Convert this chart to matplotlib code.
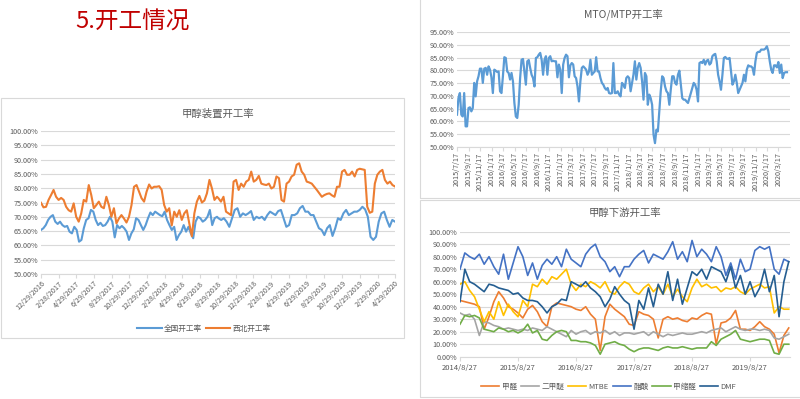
import numpy as np
import pandas as pd
import matplotlib
matplotlib.use('Agg')
import matplotlib.pyplot as plt
from matplotlib.patches import Rectangle

plt.rcParams['font.family'] = ['Noto Sans CJK SC', 'DejaVu Sans']

### 甲醇装置开工率 : deux moitiés (avant / après fin août 2018)
national_a = [65.4, 66, 67.1, 68.9, 70, 70.6, 68.3, 67.5, 68.3, 67.1, 66.5, 66.8, 64.8, 64.2, 66.5,
              65.4, 61.3, 61.9, 66, 68.9, 69.5, 72.4, 71.8, 68.9, 67.1, 67.9, 66.8, 67.1, 68.3, 70,
              68.3, 62.8, 67.1, 66, 66.8, 66, 64.8, 61.9, 64.2, 65.6, 69.5, 68.9, 67.1, 65.4, 67.1,
              69.5, 71.5, 70.6, 71.8, 71.2, 70.6, 70.2, 71.8, 68.9, 67.1, 65.4, 66.5, 61.9, 63.6, 64.8,
              67.1, 64.8, 66.5, 64.2, 62.5, 68.3, 70, 69.5, 68.3, 68.9, 70, 72.4, 67.1, 69.5, 70]
national_b = [69.5, 68.9, 69.5, 68.3, 66.5, 69.5, 72.4, 73, 70, 71.2, 70.6, 71.2, 72, 68.9, 70,
              69.5, 70, 68.9, 70.6, 71.8, 71.2, 70.6, 72, 72.4, 69.5, 66.5, 67.1, 70.6, 70.6, 71.2,
              73, 73.8, 71.8, 71.8, 70.6, 70.6, 68.3, 66, 65.4, 63.6, 66, 67.1, 63.3, 66, 69.5,
              68.9, 71.2, 72.4, 70.6, 71.2, 71.8, 71.8, 72.4, 73.5, 72.6, 70, 63, 61.9, 63, 68.3,
              71.2, 71.8, 68.9, 66.5, 68.9, 68.3]
northwest_a = [74.9, 73.3, 73.5, 75.9, 77.6, 79.4, 77, 75.9, 76.6, 75.9, 73.5, 72.3, 71.8, 74.7, 70,
               68.3, 71.2, 75.9, 75.3, 81.1, 77.6, 73, 74.1, 75.3, 73.5, 73, 77, 74.1, 70, 73,
               67.7, 69.4, 70.6, 69.4, 68, 70, 74.1, 80.5, 81.1, 78.8, 76.5, 75.3, 78.8, 81.3, 79.9,
               80.5, 80.5, 80.7, 79.4, 74.1, 71.8, 73, 67, 71.8, 70, 72.3, 68.9, 71.2, 72.3, 67.6,
               63.2, 71.2, 75.3, 77.3, 75, 75.7, 78.2, 82.9, 79.9, 75.9, 77]
northwest_b = [76.5, 75.3, 77, 71.8, 71.2, 70.6, 82.3, 82.9, 79.4, 81.6, 80.5, 82.3, 82.9, 85.8, 82.3,
               82.9, 84.3, 81.6, 81.3, 81.1, 81.6, 79.9, 80.5, 84.1, 83.5, 75.9, 75.3, 81.6, 82.3, 84.1,
               84.7, 88.2, 88.7, 85.8, 84.7, 82.3, 82, 81.6, 80.5, 79.4, 78.2, 77, 77.6, 78, 78.2,
               77.5, 77, 80.5, 80.5, 85.8, 86.4, 84.7, 84.7, 85.8, 84.1, 86.4, 86.8, 86.6, 86.4, 73.5,
               71.4, 71.8, 81.6, 84.7, 85.8, 86.4, 82.9, 81.6, 82.3, 81.1, 80.6]
left_ticks = ['12/29/2016', '2/28/2017', '4/29/2017', '6/29/2017', '8/29/2017', '10/29/2017',
              '12/29/2017', '2/28/2018', '4/29/2018', '6/29/2018', '8/29/2018', '10/29/2018',
              '12/29/2018', '2/28/2019', '4/29/2019', '6/29/2019', '8/29/2019', '10/29/2019',
              '12/29/2019', '2/29/2020', '4/29/2020']

### MTO/MTP开工率 (hebdo)
mto = [62.6, 69.1, 71.1, 62.6, 61.9, 71.1, 58, 58, 65.2, 65.5, 63.9, 65.2, 75.1, 69.8, 75.7,
       77.7, 80.7, 80.7, 75.1, 80.7, 81, 78.3, 81.6, 80.3, 77.3, 71.1, 80.3, 79.9, 79.4, 79.6,
       71.8, 71.1, 77.7, 85.2, 84.9, 79.6, 79, 76.4, 79, 75.7, 67.2, 61.9, 61.3, 66.5, 77,
       84.2, 84.5, 79.6, 74.4, 83.6, 84.1, 81, 78.3, 77, 73.7, 84.9, 85.2, 86.2, 86.9, 84.2,
       78.3, 84.2, 85.6, 78.3, 84.9, 85.6, 83.6, 83.8, 83.6, 83.6, 77.3, 82.3, 80.3, 71.1, 82.3,
       84.9, 86.2, 85.6, 77.3, 82, 82.9, 82.3, 77.7, 77, 73.7, 67.8, 75.7, 81, 81.6, 81,
       80.3, 78.3, 79.6, 84.2, 78.3, 79, 79.6, 85.2, 79.6, 79.6, 77, 75.1, 74.4, 73.1, 72.4,
       73.1, 71.1, 70.9, 71.1, 82.9, 71.1, 71.1, 71.8, 70.5, 69.8, 75.1,
       74.4, 73.1, 77, 77.7, 77, 71.8, 75.1, 78.3, 83.6, 76.4, 81, 82.9, 81, 75.7, 68.5,
       79, 77.7, 66.5, 70.5, 69.1, 66.5, 54.7, 51.4, 56.7, 56, 63.9, 71.8, 77.7, 77, 73.7,
       71.8, 71.1, 66.5, 72.4, 77.7, 77.7, 75.1, 74.4, 78.3, 79.9, 74.4, 69.1, 68.5, 68.5, 67.8,
       67.2, 69.1, 71.1, 73.1, 75.1, 74.4, 72.4, 67.8, 82.9, 83.3, 82.9, 84.2, 82.3, 83.8, 84.2,
       82.3, 82.9, 85.6, 86.2, 86.5, 83.6, 78.3, 75.7, 72.4, 78.3, 84.9, 85.3, 84.6, 84.6, 84.9,
       79.6, 74.4, 75.7, 78.3, 75.1, 71.1, 72.4, 73.7, 75.1, 78.3, 75.7, 80.3, 82, 81.6, 81.6,
       81, 78.3, 83.6, 86.9, 87.3, 87.3, 88.2, 88.2, 88.2, 88.6, 89.5, 87.5, 83.6, 80.3, 79,
       82, 82, 81.2, 83.3, 79, 82.3, 77, 79, 79.3, 79.3]
mto_ticks = ['2015/7/17', '2015/9/17', '2015/11/17', '2016/1/17', '2016/3/17', '2016/5/17',
             '2016/7/17', '2016/9/17', '2016/11/17', '2017/1/17', '2017/3/17', '2017/5/17',
             '2017/7/17', '2017/9/17', '2017/11/17', '2018/1/17', '2018/3/17', '2018/5/17',
             '2018/7/17', '2018/9/17', '2018/11/17', '2019/1/17', '2019/3/17', '2019/5/17',
             '2019/7/17', '2019/9/17', '2019/11/17', '2020/1/17', '2020/3/17']

### 甲醇下游开工率 (mensuel, à partir du 2014/8/27)
formaldehyde = [45, 44, 43, 42, 40, 22, 32, 44, 52, 47, 40, 38, 35, 31, 38, 41, 36, 28, 24, 40,
                43, 42, 41, 40, 38, 37, 40, 34, 30, 5, 32, 42, 38, 35, 32,
                26, 25, 36, 34, 33, 30, 15, 30, 32, 30, 31, 29, 28, 31, 30, 33, 35, 34, 10, 27,
                28, 31, 37, 22, 22, 21, 24, 28, 24, 22, 18, 3, 17, 23]
dme = [35, 33, 34, 30, 17, 28, 27, 25, 24, 22, 23, 22, 21, 22, 21, 23, 22, 21, 24, 22,
       20, 18, 16, 21, 18, 20, 21, 18, 20, 19, 21, 18, 20, 17, 19,
       19, 18, 19, 20, 17, 20, 18, 16, 18, 17, 18, 19, 18, 18, 19, 20, 19, 21, 22, 23,
       20, 22, 24, 22, 21, 22, 22, 21, 22, 21, 15, 14, 16, 18]
mtbe = [58, 60, 53, 48, 38, 28, 36, 30, 44, 33, 42, 36, 32, 45, 40, 58, 56, 62, 58, 64,
        62, 66, 70, 58, 53, 58, 56, 60, 58, 55, 60, 52, 50, 56, 60,
        58, 52, 50, 55, 58, 52, 56, 50, 58, 48, 54, 48, 44, 55, 62, 56, 58, 55, 56, 52,
        55, 54, 56, 52, 50, 54, 56, 58, 55, 56, 35, 40, 38, 38]
acetic = [70, 83, 80, 78, 82, 74, 80, 72, 66, 82, 62, 75, 88, 80, 65, 75, 62, 73, 78, 74,
          80, 72, 86, 78, 75, 72, 82, 87, 90, 80, 76, 68, 72, 64, 72,
          72, 78, 82, 85, 75, 82, 80, 78, 84, 92, 78, 84, 76, 93, 80, 86, 82, 76, 88, 80,
          65, 75, 62, 78, 68, 70, 85, 88, 86, 88, 70, 66, 78, 76]
methylal = [26, 33, 32, 33, 31, 22, 21, 20, 23, 22, 20, 21, 19, 21, 26, 19, 21, 14, 13, 17,
            20, 21, 20, 13, 13, 12, 12, 11, 9, 2, 10, 11, 12, 10, 9,
            6, 4, 6, 7, 7, 6, 5, 7, 8, 7, 7, 8, 7, 6, 7, 7, 7, 12, 9, 14,
            16, 18, 21, 14, 13, 12, 13, 14, 14, 13, 3, 2, 10, 10]
dmf = [44, 70, 60, 58, 55, 52, 58, 57, 55, 54, 53, 50, 51, 47, 45, 45, 44, 40, 35, 40,
       42, 46, 45, 60, 58, 56, 60, 55, 52, 48, 40, 46, 56, 50, 45,
       42, 22, 45, 38, 55, 40, 58, 50, 68, 45, 62, 42, 55, 68, 65, 70, 62, 72, 70, 68,
       60, 72, 55, 65, 50, 60, 48, 55, 70, 52, 65, 32, 60, 76]
down_names = ['甲醛', '二甲醚', 'MTBE', '醋酸', '甲缩醛', 'DMF']
down_ticks = ['2014/8/27', '2015/8/27', '2016/8/27', '2017/8/27', '2018/8/27', '2019/8/27']

GRID = '#D9D9D9'
TXT = '#595959'
W, H = 800, 399


def ax_at(fig, x0, y0, x1, y1):
    # boîte en pixels (origine en haut à gauche)
    return fig.add_axes([x0 / W, 1 - y1 / H, (x1 - x0) / W, (y1 - y0) / H])


def panel(fig, x0, y0, x1, y1):
    fig.patches.append(Rectangle((x0 / W, 1 - y1 / H), (x1 - x0) / W, (y1 - y0) / H,
                                 transform=fig.transFigure, fill=False, edgecolor=GRID, lw=0.8))


def style(ax, ymin, ymax, step):
    ax.set_ylim(ymin, ymax)
    ax.set_yticks(np.arange(ymin, ymax + 0.1, step))
    ax.set_yticklabels([f'{v:.2f}%' for v in np.arange(ymin, ymax + 0.1, step)])
    ax.grid(axis='y', color=GRID, lw=0.8)
    ax.set_axisbelow(True)
    for s in ['top', 'right', 'left']:
        ax.spines[s].set_visible(False)
    ax.spines['bottom'].set_color(GRID)
    ax.tick_params(axis='y', length=0, labelsize=5.2, labelcolor=TXT, pad=2)
    ax.tick_params(axis='x', length=3, color=GRID, labelsize=5.2, labelcolor=TXT, pad=1)


fig = plt.figure(figsize=(8, 3.99), dpi=100)
fig.text(75 / W, 1 - 22 / H, '5.开工情况', color='#C00000', fontsize=17, va='center', ha='left')

panel(fig, 1, 98, 404, 338)
panel(fig, 420, -2, 802, 198)
panel(fig, 420, 200, 802, 397)

# ---- gauche
ax = ax_at(fig, 41, 131, 395, 274)
d_a = pd.date_range('2016-12-29', '2018-08-26', periods=len(national_a))
d_b = pd.date_range('2018-08-31', '2020-04-29', periods=len(national_b))
ax.plot(d_a.append(d_b), national_a + national_b, color='#5B9BD5', lw=1.5, label='全国开工率')
d_a = pd.date_range('2016-12-29', '2018-08-26', periods=len(northwest_a))
d_b = pd.date_range('2018-08-31', '2020-04-29', periods=len(northwest_b))
ax.plot(d_a.append(d_b), northwest_a + northwest_b, color='#ED7D31', lw=1.5, label='西北开工率')
style(ax, 50, 100, 5)
ax.set_xlim(pd.Timestamp('2016-12-29'), pd.Timestamp('2020-04-29'))
ax.set_xticks(pd.to_datetime(left_ticks, format='%m/%d/%Y'))
ax.set_xticklabels(left_ticks, rotation=45, ha='right', rotation_mode='anchor')
ax.set_title('甲醇装置开工率', fontsize=7.5, color=TXT, pad=10)
ax.legend(loc='center', bbox_to_anchor=(0.46, -0.385), ncol=2, frameon=False, fontsize=5.5,
          handlelength=3.2, columnspacing=0.5, handletextpad=0.3, labelcolor=TXT)

# ---- MTO
ax = ax_at(fig, 457, 32.3, 790, 146.7)
ax.plot(pd.date_range('2015-07-17', '2020-05-01', periods=len(mto)), mto, color='#5B9BD5', lw=1.6)
style(ax, 50, 95, 5)
ax.set_xlim(pd.Timestamp('2015-07-17'), pd.Timestamp('2020-05-17'))
ax.set_xticks(pd.to_datetime(mto_ticks, format='%Y/%m/%d'))
ax.set_xticklabels(mto_ticks, rotation=90, va='top')
ax.set_title('MTO/MTP开工率', fontsize=7.5, color=TXT, pad=10)

# ---- aval
ax = ax_at(fig, 460, 231.7, 790, 356.7)
dates = pd.date_range('2014-08-27', '2020-04-27', periods=len(dmf))
colors = ['#ED7D31', '#A5A5A5', '#FFC000', '#4472C4', '#70AD47', '#255E91']
for vals, name, c in zip([formaldehyde, dme, mtbe, acetic, methylal, dmf], down_names, colors):
    ax.plot(dates, vals, color=c, lw=1.2, label=name)
style(ax, 0, 100, 10)
ax.set_xlim(pd.Timestamp('2014-08-27'), pd.Timestamp('2020-05-05'))
ax.set_xticks(pd.to_datetime(down_ticks, format='%Y/%m/%d'))
ax.set_xticklabels(down_ticks)
ax.tick_params(axis='x', labelsize=5.5, pad=2)
ax.set_title('甲醇下游开工率', fontsize=7.5, color=TXT, pad=11)
ax.legend(loc='center', bbox_to_anchor=(0.45, -0.24), ncol=6, frameon=False, fontsize=5.5,
          handlelength=2.4, columnspacing=0.5, handletextpad=0.3, labelcolor=TXT)

fig.savefig('out.png', dpi=100, facecolor='white')
